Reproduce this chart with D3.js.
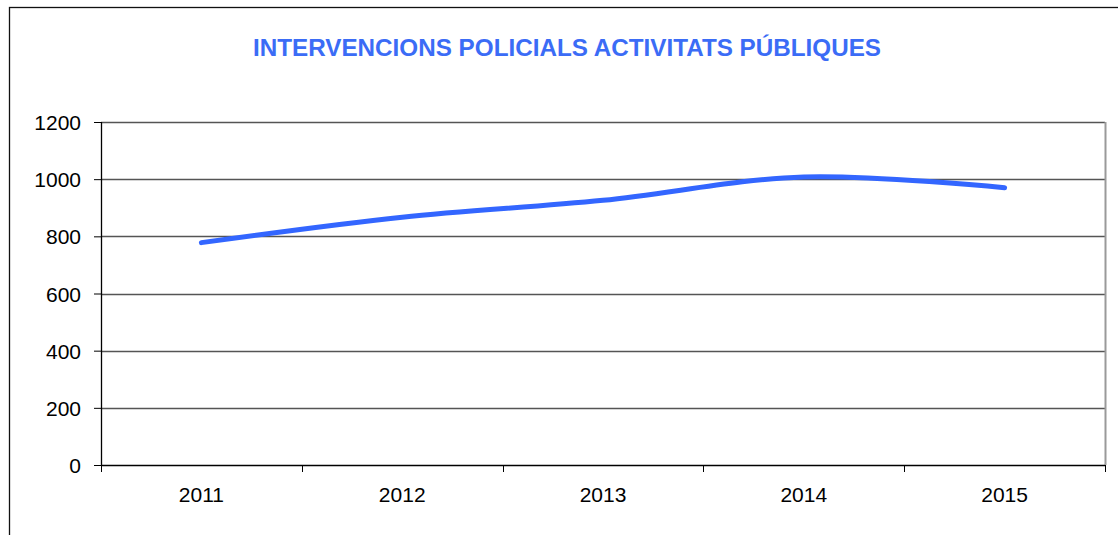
<!DOCTYPE html>
<html lang="ca">
<head>
  <meta charset="UTF-8">
  <title>Intervencions policials activitats públiques</title>
  <script src="https://d3js.org/d3.v7.min.js"></script>
  <style>
    body { margin: 0; background: #fff; }
    .tick text { font-family: 'Liberation Sans', Arial, sans-serif; font-size: 21px; fill: #000; }
    .title { font-family: 'Liberation Sans', Arial, sans-serif; font-weight: bold; font-size: 23px; fill: #3b6cf6; }
  </style>
</head>
<body>
  <div id="chart"></div>
  <script>
    // chart data
    const years = ['2011', '2012', '2013', '2014', '2015'];
    const values = [778, 867, 926, 1008, 970];
    const yTicks = [0, 200, 400, 600, 800, 1000, 1200];

    const width = 1118, height = 535;
    const margin = { top: 122, right: 13, bottom: 70, left: 101 };
    const innerW = width - margin.left - margin.right;
    const innerH = height - margin.top - margin.bottom;

    const svg = d3.select('#chart').append('svg')
      .attr('width', width)
      .attr('height', height);

    // outer chart frame
    svg.append('rect')
      .attr('x', 9.5).attr('y', 7.5)
      .attr('width', 1130).attr('height', 560)
      .attr('fill', 'none')
      .attr('stroke', '#111')
      .attr('stroke-width', 1.3);

    svg.append('text')
      .attr('class', 'title')
      .attr('x', 567).attr('y', 56)
      .attr('text-anchor', 'middle')
      .attr('textLength', 628)
      .attr('lengthAdjust', 'spacingAndGlyphs')
      .text('INTERVENCIONS POLICIALS ACTIVITATS PÚBLIQUES');

    const g = svg.append('g')
      .attr('transform', `translate(${margin.left},${margin.top})`);

    const x = d3.scaleBand().domain(years).range([0, innerW]);
    const y = d3.scaleLinear().domain([0, 1200]).range([innerH, 0]);

    // gridlines
    g.append('g')
      .selectAll('line')
      .data(yTicks.filter(d => d > 0))
      .enter().append('line')
      .attr('x1', 0).attr('x2', innerW)
      .attr('y1', d => Math.round(y(d)) + 0.5)
      .attr('y2', d => Math.round(y(d)) + 0.5)
      .attr('stroke', '#555')
      .attr('stroke-width', 1.3);

    // right plot border
    g.append('line')
      .attr('x1', innerW + 0.5).attr('x2', innerW + 0.5)
      .attr('y1', 0).attr('y2', innerH)
      .attr('stroke', '#9a9a9a')
      .attr('stroke-width', 2);

    // y axis
    const yAxis = g.append('g')
      .call(d3.axisLeft(y).tickValues(yTicks).tickFormat(d3.format('d')).tickSize(7).tickPadding(13));
    yAxis.selectAll('line, path').attr('stroke', '#000');
    yAxis.select('.domain').attr('d', `M0.5,${innerH}V0`).attr('stroke-width', 1.3);
    yAxis.selectAll('.tick text').attr('dy', '0.36em');

    // x axis with ticks at category boundaries
    const xAxis = g.append('g')
      .attr('transform', `translate(0,${innerH})`)
      .call(d3.axisBottom(x).tickSize(0).tickPadding(22));
    xAxis.select('.domain').attr('stroke', '#000').attr('stroke-width', 1.3).attr('d', `M0,0.5H${innerW}`);
    xAxis.selectAll('.tick text').attr('dy', '0.71em');
    g.append('g')
      .selectAll('line')
      .data(d3.range(years.length + 1))
      .enter().append('line')
      .attr('x1', i => Math.round(i * x.step()) + 0.5)
      .attr('x2', i => Math.round(i * x.step()) + 0.5)
      .attr('y1', innerH).attr('y2', innerH + 7)
      .attr('stroke', '#000');

    // smoothed series line
    const line = d3.line()
      .x((d, i) => x(years[i]) + x.bandwidth() / 2)
      .y(d => y(d))
      .curve(d3.curveCatmullRom.alpha(0));

    g.append('path')
      .datum(values)
      .attr('fill', 'none')
      .attr('stroke', '#3366ff')
      .attr('stroke-width', 5)
      .attr('stroke-linecap', 'round')
      .attr('d', line);
  </script>
</body>
</html>
